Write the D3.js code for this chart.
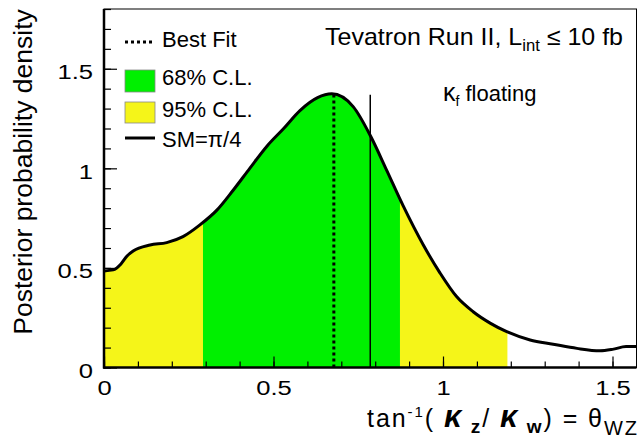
<!DOCTYPE html>
<html>
<head>
<meta charset="utf-8">
<script src="https://cdn.jsdelivr.net/npm/d3@7"></script>
<style>
  body { margin: 0; background: #fff; }
  svg { display: block; }
  text { font-family: "Liberation Sans", Arial, sans-serif; fill: #000; }
</style>
</head>
<body>
<div id="chart"></div>
<script>
// Data
var theta = [0, 0.027, 0.05, 0.068, 0.086, 0.136, 0.185, 0.233, 0.283, 0.333, 0.381, 0.43, 0.48, 0.53, 0.578, 0.63, 0.672,
             0.735, 0.787, 0.834, 0.883, 0.942, 0.991, 1.04, 1.089, 1.139, 1.188, 1.257, 1.325, 1.395, 1.463, 1.5, 1.54, 1.571]
var density = [0.485, 0.49, 0.52, 0.56, 0.585, 0.615, 0.627, 0.657, 0.716, 0.79, 0.89, 1.0, 1.11, 1.2, 1.29, 1.355, 1.374,
               1.31, 1.16, 0.99, 0.81, 0.615, 0.475, 0.356, 0.28, 0.223, 0.18, 0.138, 0.117, 0.096, 0.084, 0.091, 0.105, 0.105]
var cl68 = [0.292, 0.873]
var cl95 = [0, 1.19]
var bestFit = 0.678
var bestFitTop = 1.374
var smValue = Math.PI / 4
var smTop = 1.37
var xMajorTicks = [0, 0.5, 1, 1.5]
var yMajorTicks = [0, 0.5, 1, 1.5]
var legendLabels = ["Best Fit", "68% C.L.", "95% C.L.", "SM=\u03c0/4"]

var margin = {top: 9, right: 3.5, bottom: 73.5, left: 104},
    width = 640 - margin.left - margin.right,
    height = 441 - margin.top - margin.bottom

var svg = d3.select("#chart")
    .append("svg")
    .attr("width", 640)
    .attr("height", 441)

var g = svg.append("g")
    .attr("transform", "translate(" + margin.left + "," + margin.top + ")")

var xPositionScale = d3.scaleLinear().domain([0, Math.PI / 2]).range([0, width])
var yPositionScale = d3.scaleLinear().domain([0, 1.8]).range([height, 0])

var datapoints = theta.map(function(t, i) { return {t: t, d: density[i]} })

// clip regions for the confidence bands
var defs = svg.append("defs")
defs.append("clipPath").attr("id", "clip95")
  .append("rect")
  .attr("x", xPositionScale(cl95[0]))
  .attr("width", xPositionScale(cl95[1]) - xPositionScale(cl95[0]))
  .attr("y", 0).attr("height", height)
defs.append("clipPath").attr("id", "clip68")
  .append("rect")
  .attr("x", xPositionScale(cl68[0]))
  .attr("width", xPositionScale(cl68[1]) - xPositionScale(cl68[0]))
  .attr("y", 0).attr("height", height)

var area = d3.area()
  .x(function(d) { return xPositionScale(d.t) })
  .y0(height)
  .y1(function(d) { return yPositionScale(d.d) })
  .curve(d3.curveMonotoneX)

var line = d3.line()
  .x(function(d) { return xPositionScale(d.t) })
  .y(function(d) { return yPositionScale(d.d) })
  .curve(d3.curveMonotoneX)

g.append("path").datum(datapoints)
  .attr("d", area).attr("fill", "#f5f519").attr("clip-path", "url(#clip95)")
g.append("path").datum(datapoints)
  .attr("d", area).attr("fill", "#00f000").attr("clip-path", "url(#clip68)")

// best fit and SM lines
g.append("line")
  .attr("x1", xPositionScale(bestFit)).attr("x2", xPositionScale(bestFit))
  .attr("y1", yPositionScale(0)).attr("y2", yPositionScale(bestFitTop))
  .attr("stroke", "#000").attr("stroke-width", 3).attr("stroke-dasharray", "3,3")
g.append("line")
  .attr("x1", xPositionScale(smValue)).attr("x2", xPositionScale(smValue))
  .attr("y1", yPositionScale(0)).attr("y2", yPositionScale(smTop))
  .attr("stroke", "#000").attr("stroke-width", 1.5)

g.append("path").datum(datapoints)
  .attr("d", line).attr("fill", "none").attr("stroke", "#000").attr("stroke-width", 3)

// Axes (ticks point inwards, like ROOT)
var sx = 1.28
function stretch(sel) {
  sel.selectAll("text")
    .style("font-size", "20px")
    .attr("transform", "scale(" + sx + ",1)")
}

var xAxis = d3.axisBottom(xPositionScale)
  .tickValues(xMajorTicks).tickSize(-11).tickPadding(13)
  .tickFormat(d3.format("~g"))
var xMinor = d3.axisBottom(xPositionScale)
  .tickValues(d3.range(0, 1.55, 0.1)).tickSize(-6).tickFormat("")
var yAxis = d3.axisLeft(yPositionScale)
  .tickValues(yMajorTicks).tickSize(-13).tickPadding(11)
  .tickFormat(d3.format("~g"))
var yMinor = d3.axisLeft(yPositionScale)
  .tickValues(d3.range(0, 1.81, 0.1)).tickSize(-7).tickFormat("")

g.append("g").attr("class", "axis x-axis")
  .attr("transform", "translate(0," + height + ")")
  .call(xMinor)
var xg = g.append("g").attr("class", "axis x-axis")
  .attr("transform", "translate(0," + height + ")")
  .call(xAxis)
g.append("g").attr("class", "axis y-axis").call(yMinor)
var yg = g.append("g").attr("class", "axis y-axis").call(yAxis)

g.selectAll(".axis .domain").remove()
g.selectAll(".axis line").attr("stroke", "#000").attr("stroke-width", 1.2)
stretch(xg)
stretch(yg)
xg.selectAll("text").attr("x", 0)
yg.selectAll("text").attr("x", -11 / sx).attr("dy", "0.5em")

// frame
g.append("rect").attr("width", width).attr("height", height)
  .attr("fill", "none").attr("stroke", "#000").attr("stroke-width", 1)
g.append("line").attr("x1", 0).attr("x2", 0).attr("y1", 0).attr("y2", height + 1)
  .attr("stroke", "#000").attr("stroke-width", 2.5)
g.append("line").attr("x1", -1).attr("x2", width).attr("y1", height).attr("y2", height)
  .attr("stroke", "#000").attr("stroke-width", 2.5)

// legend
var legendY = [42, 81, 112.5, 138]
var baseY = [47, 85, 117, 147]
var legend = svg.append("g")
legend.append("line").attr("x1", 125).attr("x2", 153).attr("y1", legendY[0]).attr("y2", legendY[0])
  .attr("stroke", "#000").attr("stroke-width", 3).attr("stroke-dasharray", "3,3")
legend.append("rect").attr("x", 125).attr("y", 70).attr("width", 30).attr("height", 22)
  .attr("fill", "#00f000").attr("stroke", "#888").attr("stroke-width", 0.8)
legend.append("rect").attr("x", 125).attr("y", 102).attr("width", 30).attr("height", 21)
  .attr("fill", "#f5f519").attr("stroke", "#888").attr("stroke-width", 0.8)
legend.append("line").attr("x1", 125).attr("x2", 155).attr("y1", legendY[3]).attr("y2", legendY[3])
  .attr("stroke", "#000").attr("stroke-width", 3)
legend.selectAll("text.leg")
  .data(legendLabels)
  .enter().append("text")
  .attr("class", "leg")
  .attr("x", 162)
  .attr("y", function(d, i) { return baseY[i] })
  .style("font-size", "22px")
  .text(function(d) { return d })

// annotations
var tev = svg.append("text").attr("x", 623).attr("y", 45)
  .attr("text-anchor", "end").style("font-size", "24px")
  .attr("textLength", 298).attr("lengthAdjust", "spacingAndGlyphs")
tev.append("tspan").text("Tevatron Run II, L")
tev.append("tspan").attr("dy", 6).style("font-size", "16px").text("int")
tev.append("tspan").attr("dy", -6).text(" \u2264 10 fb")

var kf = svg.append("text").attr("x", 443).attr("y", 101).style("font-size", "22px")
kf.append("tspan").style("font-size", "25px").text("\u03ba")
kf.append("tspan").attr("dy", 5).style("font-size", "14px").text("f")
kf.append("tspan").attr("dy", -5).text(" floating")

// axis titles
svg.append("text")
  .attr("transform", "translate(32,172) rotate(-90)")
  .attr("text-anchor", "middle")
  .style("font-size", "26.5px")
  .text("Posterior probability density")

var xt = svg.append("text").attr("x", 637).attr("y", 427)
  .attr("text-anchor", "end").style("font-size", "25px")
  .attr("textLength", 270).attr("lengthAdjust", "spacing")
xt.append("tspan").text("tan")
xt.append("tspan").attr("dy", -10).style("font-size", "15px").text("-1")
xt.append("tspan").attr("dy", 10).text("( ")
xt.append("tspan").style("font-weight", "bold").style("font-style", "italic").style("font-size", "31px").text("\u03ba")
xt.append("tspan").attr("dy", 6).style("font-weight", "bold").style("font-size", "19px").text(" z")
xt.append("tspan").attr("dy", -6).text("/ ")
xt.append("tspan").style("font-weight", "bold").style("font-style", "italic").style("font-size", "31px").text("\u03ba")
xt.append("tspan").attr("dy", 6).style("font-weight", "bold").style("font-size", "19px").text(" w")
xt.append("tspan").attr("dy", -6).text(")  =  \u03b8")
xt.append("tspan").attr("dy", 8).style("font-size", "20px").text("WZ")
</script>
</body>
</html>
